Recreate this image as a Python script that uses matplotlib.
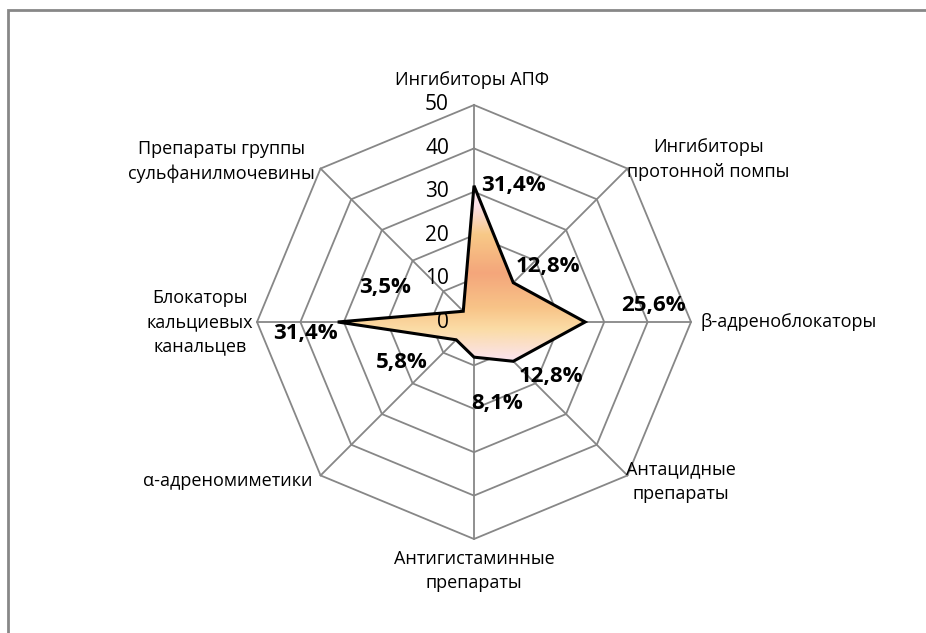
import numpy as np
import matplotlib.pyplot as plt
from matplotlib.colors import LinearSegmentedColormap
from matplotlib.patches import Polygon, Rectangle

plt.rcParams['font.family'] = ['Open Sans', 'DejaVu Sans']

# data
categories = ['Ингибиторы АПФ', 'Ингибиторы\nпротонной помпы', 'β-адреноблокаторы',
              'Антацидные\nпрепараты', 'Антигистаминные\nпрепараты', 'α-адреномиметики',
              'Блокаторы\nкальциевых\nканальцев', 'Препараты группы\nсульфанилмочевины']
values = [31.4, 12.8, 25.6, 12.8, 8.1, 5.8, 31.4, 3.5]
labels = ['31,4%', '12,8%', '25,6%', '12,8%', '8,1%', '5,8%', '31,4%', '3,5%']
ticks = [0, 10, 20, 30, 40, 50]
rmax = 50

# label placement (offsets in pixels)
lab_off = [(39, 0), (35, 16), (68, 17), (38, -15), (23, -46), (-54, -23), (-32, -11), (-78, 24)]
cat_ha = ['center', 'center', 'left', 'center', 'center', 'right', 'center', 'center']
cat_off = [(-2, 25), (81, 9), (9, 0), (53, -6), (0, -32), (-8, -6), (-57, 0), (-99, 7)]

n = len(categories)
ang = np.arange(n) * 2 * np.pi / n
sx, sy = np.sin(ang), np.cos(ang)

fig = plt.figure(figsize=(9.26, 6.33), dpi=100)
ax = fig.add_axes([0, 0, 1, 1])
cx, cy, R = 474, 322, 217  # pixel centre and radius of the 50 ring
k = rmax / R
ax.set_xlim(-cx * k, (926 - cx) * k)
ax.set_ylim((cy - 633) * k, cy * k)
ax.axis('off')

# outer frame (cut by the image edge)
ax.add_patch(Rectangle((-466 * k, (cy - 700) * k), 1500 * k, (700 - 10) * k,
                       fill=False, ec='#878787', lw=2, clip_on=False))

gc = '#878787'
for t in ticks[1:]:
    ax.plot(np.append(sx, sx[0]) * t, np.append(sy, sy[0]) * t, color=gc, lw=1.3, zorder=1)
for i in range(n):
    ax.plot([0, sx[i] * rmax], [0, sy[i] * rmax], color=gc, lw=1.3, zorder=1)

# tick labels
for t in ticks:
    ax.text(-25 * k, t, str(t), ha='right', va='center', fontsize=15, color='black', zorder=4)

# data polygon with gradient
px, py = np.array(values) * sx, np.array(values) * sy
poly = Polygon(np.column_stack([px, py]), closed=True, fc='none', ec='black', lw=2.2, zorder=3)
ax.add_patch(poly)
cmap = LinearSegmentedColormap.from_list('peach', [
    (0.0, '#fdf0f5'), (0.12, '#fbe0e6'), (0.28, '#f8c987'), (0.5, '#f4a67b'),
    (0.7, '#f8c488'), (0.82, '#fbdca6'), (1.0, '#fbe3ef')])
grad = np.linspace(0, 1, 256).reshape(-1, 1)
im = ax.imshow(grad, cmap=cmap, aspect='auto', origin='upper',
               extent=[px.min(), px.max(), py.min(), py.max()], zorder=2)
im.set_clip_path(poly)

# data labels
for i in range(n):
    ax.annotate(labels[i], (px[i], py[i]), xytext=(lab_off[i][0] * 0.72, lab_off[i][1] * 0.72),
                textcoords='offset points', ha='center', va='center',
                fontsize=16, fontweight='bold', color='black', zorder=5)

# category labels
for i in range(n):
    ax.annotate(categories[i], (sx[i] * rmax, sy[i] * rmax),
                xytext=(cat_off[i][0] * 0.72, cat_off[i][1] * 0.72), textcoords='offset points',
                ha=cat_ha[i], va='center', fontsize=13, color='black', linespacing=1.45,
                multialignment='center', zorder=5)

fig.savefig('out.png', dpi=100)
